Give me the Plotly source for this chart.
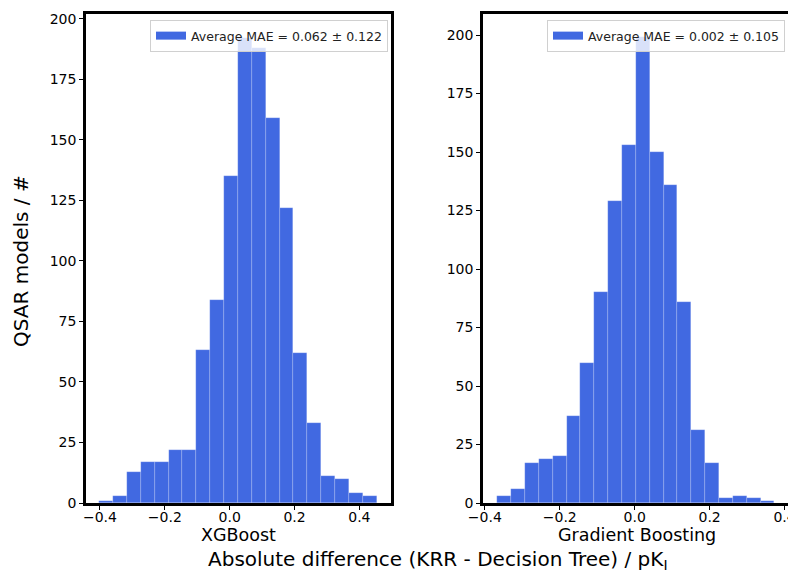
import plotly.graph_objects as go

# ---------------- data ----------------
left_counts = [1, 3, 13, 17, 17, 22, 22, 63, 84, 135, 192, 188, 159, 122, 62, 33, 11, 10, 4, 3]
left_bin_start = -0.402
left_bin_width = 0.04275
left_label = "Average MAE = 0.062 ± 0.122"
left_title = "XGBoost"

right_counts = [3, 6, 17, 19, 20, 37, 60, 90, 129, 153, 199, 150, 136, 86, 31, 17, 2, 3, 2, 1]
right_bin_start = -0.367
right_bin_width = 0.037
right_label = "Average MAE = 0.002 ± 0.105"
right_title = "Gradient Boosting"

x_ticks = [-0.4, -0.2, 0.0, 0.2, 0.4]
y_ticks = [0, 25, 50, 75, 100, 125, 150, 175, 200]
y_title = "QSAR models / #"
x_title = "Absolute difference (KRR - Decision Tree) / pK<sub>I</sub>"

BAR_COLOR = "#4169E1"
FONT = "DejaVu Sans"

# page has an 8px body margin; positions below are given in window pixels
OFF = 8
W, H = 796, 574


def px(x):
    return (x - OFF) / W


def py(y):
    return 1 - (y - OFF) / H


def centers(start, width, n):
    return [start + width * (i + 0.5) for i in range(n)]


edge = dict(color="rgba(255,255,255,0.35)", width=0.5)

fig = go.Figure()
for counts, start, width, label, xa, ya, lg in [
    (left_counts, left_bin_start, left_bin_width, left_label, "x", "y", "legend"),
    (right_counts, right_bin_start, right_bin_width, right_label, "x2", "y2", "legend2"),
]:
    fig.add_trace(go.Bar(
        x=centers(start, width, len(counts)), y=counts, width=width,
        marker=dict(color=BAR_COLOR, line=edge),
        name=label, xaxis=xa, yaxis=ya, showlegend=False,
    ))
    # legend entry drawn as a wide patch, like matplotlib's
    fig.add_trace(go.Scatter(
        x=[None], y=[None], mode="lines", line=dict(color=BAR_COLOR, width=8),
        name=label, xaxis=xa, yaxis=ya, legend=lg, showlegend=True, hoverinfo="skip",
    ))

yd = [py(503), py(14)]

axis_common = dict(
    showline=True, linecolor="black", linewidth=2.5, mirror=True,
    ticks="outside", ticklen=4, tickwidth=1.3, tickcolor="black",
    showgrid=False, zeroline=False,
    tickfont=dict(family=FONT, size=14, color="black"),
    automargin=False,
)

legend_common = dict(
    bgcolor="rgba(255,255,255,0.8)", bordercolor="#d0d0d0", borderwidth=1,
    font=dict(family=FONT, size=12.5, color="#222"),
    xanchor="right", yanchor="top", itemwidth=30,
)

fig.update_layout(
    width=W, height=H,
    margin=dict(l=0, r=0, t=0, b=0),
    paper_bgcolor="white", plot_bgcolor="white",
    font=dict(family=FONT, color="black"),
    bargap=0,
    xaxis=dict(domain=[px(86), px(391)], range=[-0.443, 0.4975], tickvals=x_ticks,
               tickformat=".1f", anchor="y", ticklabelstandoff=-5, **axis_common),
    yaxis=dict(domain=yd, range=[0, 202], tickvals=y_ticks, anchor="x", **axis_common),
    xaxis2=dict(domain=[px(483), px(789)], range=[-0.405, 0.412], tickvals=x_ticks,
                tickformat=".1f", anchor="y2", ticklabelstandoff=-5, **axis_common),
    yaxis2=dict(domain=yd, range=[0, 209], tickvals=y_ticks, anchor="x2", **axis_common),
    legend=dict(x=px(388), y=py(20), **legend_common),
    legend2=dict(x=px(785), y=py(20), **legend_common),
    annotations=[
        dict(text=left_title, x=px(238.5), y=py(535), xref="paper", yref="paper",
             showarrow=False, xanchor="center", yanchor="middle",
             font=dict(family=FONT, size=17.5, color="black")),
        dict(text=right_title, x=px(636.5), y=py(535), xref="paper", yref="paper",
             showarrow=False, xanchor="center", yanchor="middle",
             font=dict(family=FONT, size=17.5, color="black")),
        dict(text=y_title, x=px(21), y=py(261), xref="paper", yref="paper",
             textangle=-90, showarrow=False, xanchor="center", yanchor="middle",
             font=dict(family=FONT, size=20, color="black")),
        dict(text=x_title, x=px(438), y=py(560), xref="paper", yref="paper",
             showarrow=False, xanchor="center", yanchor="middle",
             font=dict(family=FONT, size=20, color="black")),
    ],
)

fig.write_html("out.html")
